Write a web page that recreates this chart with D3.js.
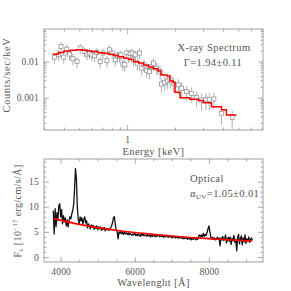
<!DOCTYPE html>
<html><head><meta charset="utf-8">
<script src="https://cdn.jsdelivr.net/npm/d3@7"></script>
<style>
html,body{margin:0;padding:0;background:#fff;}
svg{display:block;}
text{font-family:"Liberation Serif","DejaVu Serif",serif;fill:#555;}
</style></head>
<body>
<svg id="c" width="291" height="291"></svg>
<script>
// ---------- X-ray spectrum data ----------
const xrayEnergy = [0.348,0.371,0.384,0.399,0.417,0.435,0.456,0.484,0.507,0.538,0.559,0.580,0.600,0.624,0.645,0.677,0.704,0.746,0.775,0.805,0.841,0.870,0.895,0.913,0.939,0.967,0.995,1.019,1.044,1.075,1.096,1.122,1.161,1.195,1.236,1.278,1.328,1.380,1.428,1.463,1.535,1.611,1.642,1.722,1.790,1.860,1.952,2.098,2.202,2.366,2.544,2.734,2.939,3.129,3.283,3.512,3.923,4.575];
const xrayRate = [0.0132,0.0153,0.0262,0.0132,0.0221,0.0160,0.0119,0.0100,0.0235,0.0190,0.0160,0.0171,0.0153,0.0144,0.0178,0.0100,0.0171,0.0105,0.0211,0.0171,0.0111,0.0144,0.0138,0.0153,0.00845,0.0081,0.0171,0.0138,0.0164,0.0171,0.0111,0.0153,0.0090,0.0171,0.00655,0.0081,0.00564,0.00528,0.00728,0.0090,0.00655,0.00528,0.00240,0.00262,0.00291,0.0031,0.00251,0.00225,0.00182,0.00147,0.00132,0.00102,0.00086,0.00090,0.00090,0.00092,0.00037,0.000285];
const xrayErr = [0.0045,0.005,0.008,0.0045,0.007,0.0055,0.0042,0.0036,0.0075,0.006,0.0052,0.0055,0.005,0.0048,0.0058,0.0036,0.0055,0.0037,0.0066,0.0055,0.0038,0.0048,0.0046,0.005,0.003,0.0029,0.0055,0.0046,0.0053,0.0055,0.0038,0.005,0.0032,0.0055,0.0025,0.003,0.0022,0.0021,0.0027,0.0032,0.0025,0.0021,0.001,0.0011,0.0012,0.0013,0.0011,0.001,0.0008,0.00065,0.0006,0.00048,0.00042,0.00044,0.00044,0.00045,0.00019,0.00015];
// model (step line)
const modelEnergy = [0.34,0.37,0.40,0.44,0.48,0.52,0.56,0.60,0.65,0.70,0.76,0.82,0.88,0.95,1.02,1.10,1.18,1.27,1.36,1.46,1.56,1.63,1.78,1.86,1.95,2.00,2.08,2.15,2.48,2.80,3.01,3.39,3.92,4.21,4.87];
const modelRate = [0.0160,0.0178,0.0195,0.0205,0.0210,0.0205,0.0195,0.0188,0.0175,0.0168,0.0158,0.0146,0.0135,0.0124,0.0114,0.0098,0.0091,0.0080,0.0071,0.0063,0.0055,0.0042,0.0040,0.0029,0.0026,0.0014,0.0014,0.00100,0.00090,0.00083,0.00072,0.00056,0.00046,0.00033,0.00033];

// ---------- Optical spectrum data ----------
const waveStart = 3800, waveStep = 25;
const opticalFlux = [
9.2,4.6,9.6,6.0,8.8,7.2,10.2,10.6,8.0,9.4,
6.6,8.2,7.0,7.8,6.2,7.4,6.0,7.2,8.0,7.6,
8.6,9.2,10.4,13.5,17.6,15.4,9.8,7.4,6.6,8.0,
7.2,7.8,6.6,7.4,8.0,6.8,7.2,5.8,6.6,6.2,
5.6,6.4,5.9,6.3,5.5,6.1,5.7,6.2,5.4,6.0,
5.6,6.0,5.3,5.8,5.5,5.9,5.2,5.7,5.4,5.6,
5.3,5.6,5.8,6.2,6.9,7.8,8.0,6.4,5.2,5.0,
3.6,5.0,4.7,5.1,4.6,4.9,4.5,5.0,4.6,4.8,
4.5,4.8,4.4,4.7,4.5,4.3,4.6,4.4,4.7,4.3,
4.5,4.2,4.6,4.4,4.1,4.5,4.3,4.6,4.2,4.4,
4.3,4.1,4.5,4.2,4.4,4.0,4.3,4.1,4.4,4.2,
4.0,4.3,4.1,4.4,4.2,4.0,4.3,4.1,4.2,3.9,
4.2,4.0,4.3,4.1,3.9,4.2,4.0,4.1,3.8,4.1,
3.9,4.1,3.8,4.0,3.9,3.7,4.0,3.8,3.9,3.7,
3.9,3.6,3.8,3.7,3.9,3.5,3.8,3.6,3.7,3.4,
3.7,3.5,3.8,3.6,3.4,3.7,3.5,4.2,4.4,3.9,
4.4,4.0,4.7,4.1,4.5,4.3,4.8,5.6,6.2,5.1,
4.0,3.6,3.9,3.5,3.8,3.4,3.7,3.9,3.5,3.8,
2.2,3.8,3.4,4.1,3.3,3.6,4.4,2.8,3.5,3.9,
3.1,4.0,2.5,3.7,3.2,4.3,2.9,3.5,1.2,3.9,
4.5,2.6,3.6,4.2,2.4,3.8,3.0,4.4,2.7,3.6,
3.2,4.0,2.9,3.5,3.8,3.3];
const fitWave = [3800,4500,5000,5500,6000,6500,7000,7500,8000,8500,9170];
const fitFlux = [7.68,6.49,5.84,5.31,4.86,4.49,4.17,3.89,3.65,3.43,3.18];

// ---------- Ticks ----------
const xTopMajor = [1], xTopLabels = ["1"];
const xTopMinor = [0.3,0.4,0.5,0.6,0.7,0.8,0.9,2,3,4,5,6,7];
const yTopMajor = [0.001,0.01], yTopLabels = ["0.001","0.01"];
const yTopMinor = [2e-4,3e-4,4e-4,5e-4,6e-4,7e-4,8e-4,9e-4,2e-3,3e-3,4e-3,5e-3,6e-3,7e-3,8e-3,9e-3,0.02,0.03,0.04,0.05,0.06,0.07];
const xBotMajor = [4000,6000,8000], xBotLabels = ["4000","6000","8000"];
const xBotMinor = [4500,5000,5500,6500,7000,7500,8500,9000];
const yBotMajor = [0,5,10,15], yBotLabels = ["0","5","10","15"];
const yBotMinor = [1,2,3,4,6,7,8,9,11,12,13,14,16,17,18,19];

const svg = d3.select("#c");
const frameCol = "#888";

function panel(xs, ys, xMaj, xLab, xMin, yMaj, yLab, yMin){
  const [x0,x1] = xs.range(), [y1,y0] = ys.range();
  const g = svg.append("g");
  const mk = (axisFn, scale, vals, size, labels, tr) => {
    const a = axisFn(scale).tickValues(vals).tickSizeInner(size).tickSizeOuter(0)
      .tickFormat(labels ? (d,i)=>labels[i] : "");
    const ag = g.append("g").attr("transform", tr).call(a);
    ag.select(".domain").remove();
    ag.selectAll("line").attr("stroke", frameCol).attr("stroke-width",0.7);
    ag.selectAll("text").attr("font-size", 9.5).attr("fill","#555")
      .style("font-family","Liberation Serif, serif").style("letter-spacing","0.2px");
    return ag;
  };
  const b = mk(d3.axisBottom, xs, xMaj, -5, xLab, `translate(0,${y1})`);
  b.selectAll("text").attr("y", 6).attr("dy","0.71em");
  mk(d3.axisBottom, xs, xMin, -2.5, null, `translate(0,${y1})`);
  mk(d3.axisTop, xs, xMaj, -5, null, `translate(0,${y0})`);
  mk(d3.axisTop, xs, xMin, -2.5, null, `translate(0,${y0})`);
  const l = mk(d3.axisLeft, ys, yMaj, -5, yLab, `translate(${x0},0)`);
  l.selectAll("text").attr("x", -5);
  mk(d3.axisLeft, ys, yMin, -2.5, null, `translate(${x0},0)`);
  mk(d3.axisRight, ys, yMaj, -5, null, `translate(${x1},0)`);
  mk(d3.axisRight, ys, yMin, -2.5, null, `translate(${x1},0)`);
  g.append("rect").attr("x",x0).attr("y",y0).attr("width",x1-x0).attr("height",y1-y0)
    .attr("fill","none").attr("stroke",frameCol).attr("stroke-width",0.8);
  return g;
}

// ----- Top panel -----
const xT = d3.scaleLog().domain([0.3, 7.15]).range([44, 263]);
const yT = d3.scaleLog().domain([1.27e-4, 0.0794]).range([130, 29]);
panel(xT, yT, xTopMajor, xTopLabels, xTopMinor, yTopMajor, yTopLabels, yTopMinor);
const pts = xrayEnergy.map((e,i)=>({e, r:xrayRate[i], s:xrayErr[i]}));
const eb = svg.append("g");
eb.selectAll("line.v").data(pts).join("line")
  .attr("x1",d=>xT(d.e)).attr("x2",d=>xT(d.e))
  .attr("y1",d=>yT(d.r+d.s)).attr("y2",d=>yT(Math.max(d.r-d.s, 1.3e-4)))
  .attr("stroke","#999").attr("stroke-width",0.8);
eb.selectAll("rect").data(pts).join("rect")
  .attr("x",d=>xT(d.e)-2).attr("y",d=>yT(d.r)-2).attr("width",4).attr("height",4)
  .attr("fill","#fff").attr("stroke","#888").attr("stroke-width",0.7);
const model = modelEnergy.map((e,i)=>[e, modelRate[i]]);
svg.append("path").datum(model)
  .attr("d", d3.line().x(d=>xT(d[0])).y(d=>yT(d[1])).curve(d3.curveStepAfter))
  .attr("fill","none").attr("stroke","#f00").attr("stroke-width",1.5);

const lab = {"letter-spacing":"0.4px"};
function txt(x,y,s,fs,anchor){
  return svg.append("text").attr("x",x).attr("y",y).attr("text-anchor",anchor||"start")
    .attr("font-size",fs).style("letter-spacing","0.4px").text(s);
}
txt(214,51,"X-ray Spectrum",10.5,"middle");
txt(213,65.5,"Γ=1.94±0.11",10.5,"middle");
txt(153.5,154.5,"Energy [keV]",10.5,"middle");
svg.append("text").attr("transform","translate(10,75) rotate(-90)").attr("text-anchor","middle")
  .attr("font-size",10.5).style("letter-spacing","0.6px").text("Counts/sec/keV");

// ----- Bottom panel -----
const xB = d3.scaleLinear().domain([3550, 9460]).range([44, 263]);
const yB = d3.scaleLinear().domain([-1, 19.5]).range([262, 159]);
panel(xB, yB, xBotMajor, xBotLabels, xBotMinor, yBotMajor, yBotLabels, yBotMinor);
const spec = opticalFlux.map((f,i)=>[waveStart + i*waveStep, f]);
svg.append("path").datum(spec)
  .attr("d", d3.line().x(d=>xB(d[0])).y(d=>yB(d[1])))
  .attr("fill","none").attr("stroke","#111").attr("stroke-width",1.3).attr("stroke-linejoin","round");
const fit = fitWave.map((w,i)=>[w, fitFlux[i]]);
svg.append("path").datum(fit)
  .attr("d", d3.line().x(d=>xB(d[0])).y(d=>yB(d[1])).curve(d3.curveMonotoneX))
  .attr("fill","none").attr("stroke","#f00").attr("stroke-width",1.6);

txt(190,181.5,"Optical",10.5);
const al = svg.append("text").attr("x",190).attr("y",196.5).attr("font-size",10.5).style("letter-spacing","0.4px");
al.append("tspan").text("α");
al.append("tspan").attr("font-size",7).attr("dy",2).text("UV");
al.append("tspan").attr("dy",-2).text("=1.05±0.01");
txt(153.5,285.5,"Wavelenght [Å]",10.5,"middle");
const yl = svg.append("text").attr("transform","translate(21,211) rotate(-90)").attr("text-anchor","middle")
  .attr("font-size",10).style("letter-spacing","0.4px");
yl.append("tspan").text("F");
yl.append("tspan").attr("font-size",6.5).attr("dy",2).text("λ");
yl.append("tspan").attr("dy",-2).text(" [10");
yl.append("tspan").attr("font-size",6.5).attr("dy",-4).text("−17");
yl.append("tspan").attr("dy",4).text(" erg/cm/s/Å]");
</script>
</body></html>
